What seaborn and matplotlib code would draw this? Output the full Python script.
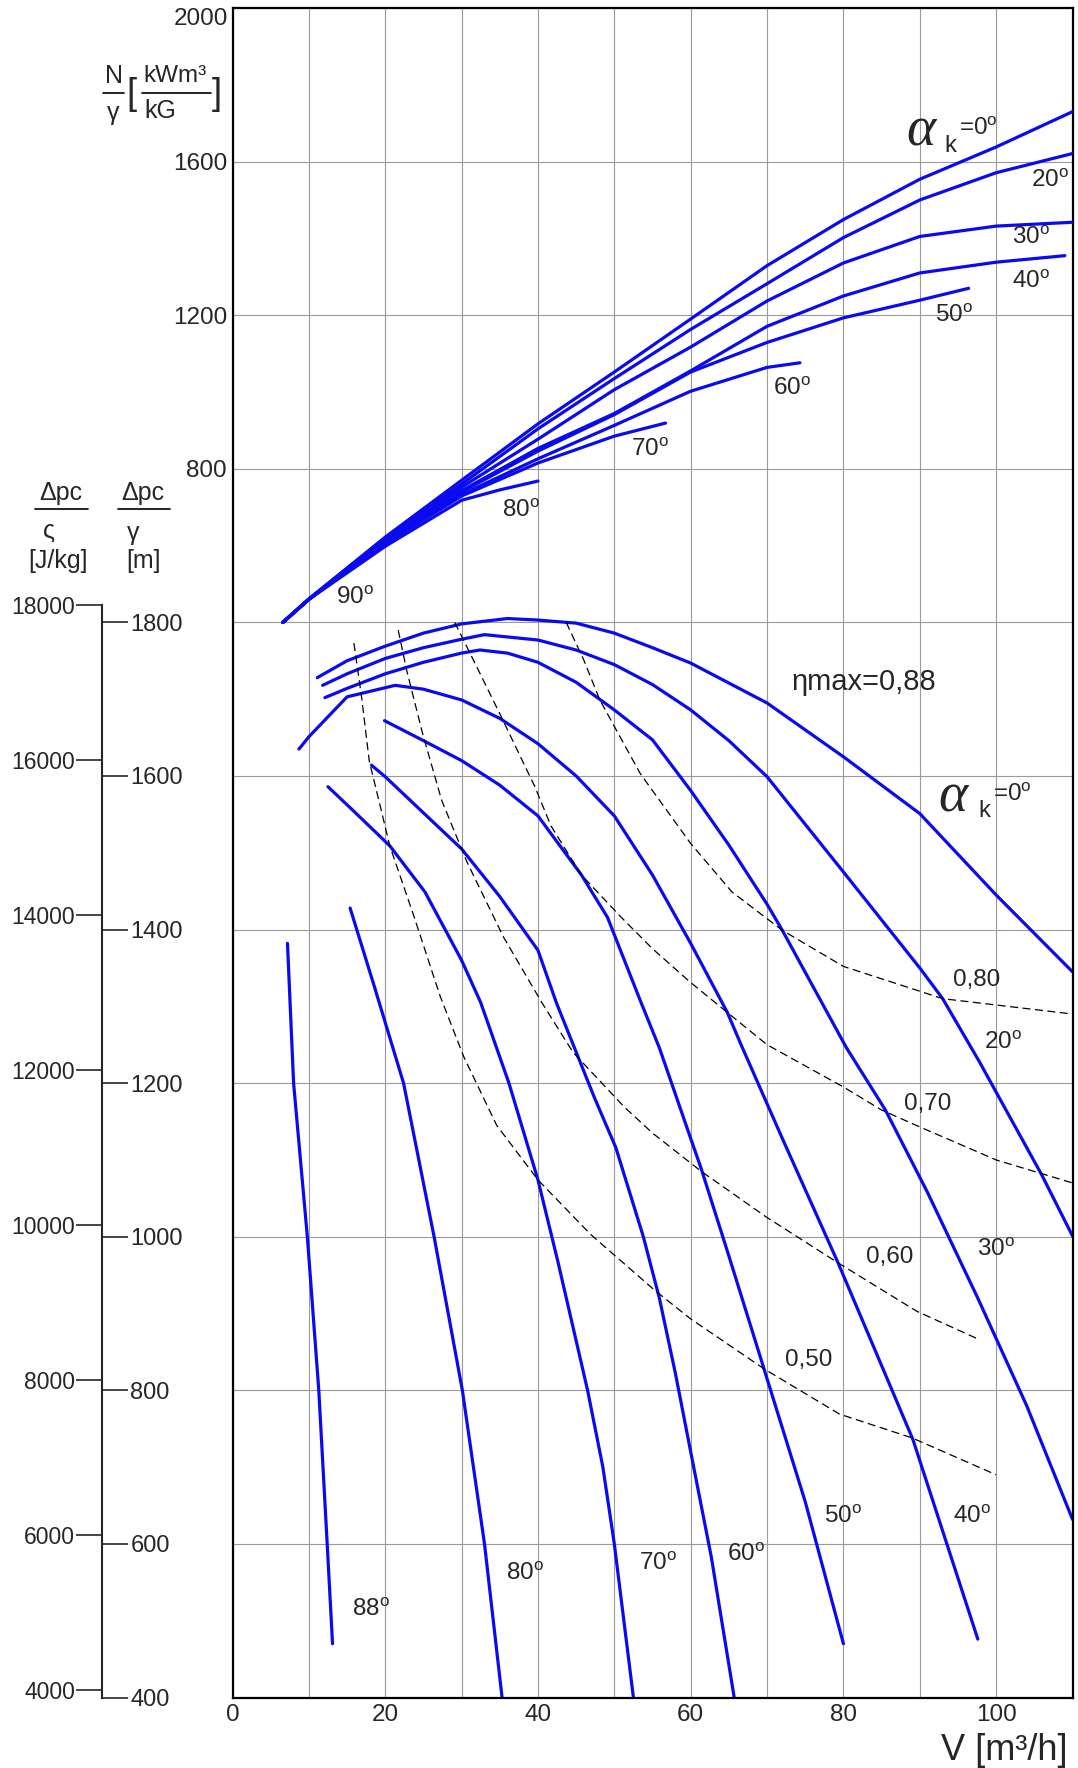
import matplotlib
matplotlib.use("Agg")
import matplotlib.pyplot as plt
from matplotlib.lines import Line2D
import seaborn as sns

# ---- upper family: N/gamma [kWm3/kG] against V [m3/h], one pair per vane angle
pow_v_0 = [6.6, 10, 20, 30, 40, 50, 60, 70, 80, 90, 100, 110]
pow_n_0 = [400, 461, 622, 770, 917, 1052, 1190, 1329, 1449, 1554, 1638, 1730]
pow_v_20 = [6.6, 10, 20, 30, 40, 50, 60, 70, 80, 90, 100, 110]
pow_n_20 = [400, 461, 620, 760, 904, 1035, 1163, 1282, 1402, 1500, 1571, 1621]
pow_v_30 = [6.6, 10, 20, 30, 40, 50, 60, 70, 80, 90, 100, 110]
pow_n_30 = [400, 460, 617, 752, 877, 1006, 1117, 1237, 1336, 1405, 1432, 1442]
pow_v_40 = [6.6, 10, 20, 30, 40, 50, 60, 70, 80, 90, 100, 109]
pow_n_40 = [400, 460, 614, 743, 853, 944, 1055, 1171, 1250, 1310, 1338, 1355]
pow_v_50 = [6.6, 10, 20, 30, 40, 50, 60, 70, 80, 90, 96.4]
pow_n_50 = [400, 460, 612, 740, 846, 941, 1052, 1129, 1193, 1239, 1270]
pow_v_60 = [6.6, 10, 20, 30, 40, 50, 60, 70, 74.3]
pow_n_60 = [400, 460, 608, 733, 826, 913, 1002, 1064, 1076]
pow_v_70 = [6.6, 10, 20, 30, 40, 50, 56.7]
pow_n_70 = [400, 460, 605, 729, 815, 885, 919]
pow_v_80 = [6.6, 10, 20, 30, 35, 40]
pow_n_80 = [400, 460, 598, 718, 745, 768]

# ---- lower family: delta p / gamma [m] against V [m3/h]
dp_v_0 = [11.1, 15, 20, 25, 30, 36, 40, 45, 50, 55, 60, 70, 80, 90, 100, 110]
dp_m_0 = [1728, 1750, 1769, 1786, 1798, 1805, 1803, 1799, 1786, 1767, 1747, 1695, 1625, 1551, 1445, 1345]
dp_v_20 = [11.8, 15, 20, 25, 30, 33, 40, 45, 50, 55, 60, 65, 70, 80, 90, 93, 97.8, 106, 110]
dp_m_20 = [1718, 1733, 1753, 1767, 1778, 1784, 1777, 1764, 1745, 1719, 1686, 1646, 1599, 1475, 1350, 1310, 1228, 1080, 1001]
dp_v_30 = [12.1, 15, 20, 25, 30, 32.4, 36, 40, 45, 50, 55, 60, 65, 70, 72, 80.4, 85.5, 91, 97.6, 104, 110]
dp_m_30 = [1702, 1714, 1733, 1748, 1760, 1764, 1760, 1748, 1722, 1686, 1647, 1581, 1510, 1433, 1399, 1246, 1165, 1058, 920, 780, 632]
dp_v_40 = [8.7, 10, 15, 21.3, 25, 30, 35, 40, 45, 50, 55, 60, 64.8, 66.6, 72, 79.3, 89.1, 97.6]
dp_m_40 = [1635, 1651, 1703, 1718, 1713, 1699, 1675, 1642, 1600, 1548, 1471, 1382, 1292, 1250, 1128, 966, 736, 476]
dp_v_50 = [19.9, 25, 30, 35, 40, 45.7, 49.1, 53.5, 55.9, 60, 61.4, 65, 69.6, 75, 80]
dp_m_50 = [1672, 1646, 1620, 1588, 1548, 1471, 1416, 1305, 1246, 1128, 1088, 975, 828, 655, 470]
dp_v_60 = [18.2, 20, 25, 30, 35, 40, 42.4, 47.4, 50.2, 53.8, 55.9, 58, 60, 62.7, 65.7]
dp_m_60 = [1614, 1599, 1552, 1505, 1443, 1373, 1305, 1181, 1116, 1000, 920, 822, 720, 583, 400]
dp_v_70 = [12.5, 16, 20.6, 25.2, 30, 32.5, 36.2, 40, 42.6, 46.5, 48.5, 50, 52.5]
dp_m_70 = [1586, 1553, 1509, 1449, 1360, 1305, 1200, 1074, 968, 800, 700, 600, 400]
dp_v_80 = [15.4, 18.6, 22.4, 26.4, 30.1, 33.0, 35.3]
dp_m_80 = [1428, 1325, 1200, 1000, 800, 600, 400]
dp_v_88 = [7.2, 8.0, 9.8, 11.3, 12.4, 13.1]
dp_m_88 = [1382, 1200, 1000, 800, 600, 470]

# ---- efficiency lines (dashed)
eta_v_50 = [15.9, 16.9, 17.9, 20.6, 23.8, 27.2, 30.3, 34.6, 40, 46.9, 55.2, 60, 69.6, 79.5, 89, 100]
eta_m_50 = [1773, 1703, 1620, 1509, 1416, 1313, 1234, 1145, 1074, 1003, 931, 893, 828, 769, 738, 690]
eta_v_60 = [21.7, 22.8, 24.9, 27.4, 30.7, 35.5, 40.5, 44.6, 51.3, 55, 61.4, 70, 79.3, 89.6, 97.8]
eta_m_60 = [1790, 1738, 1655, 1568, 1488, 1390, 1305, 1240, 1169, 1135, 1085, 1025, 966, 903, 866]
eta_v_70 = [29.1, 31.1, 35, 39.6, 41.7, 45.7, 50.9, 55, 60, 64.8, 70, 80, 85, 90, 100, 110]
eta_m_70 = [1800, 1760, 1681, 1586, 1535, 1471, 1416, 1375, 1331, 1292, 1250, 1195, 1165, 1143, 1100, 1070]
eta_v_80 = [43.7, 46, 48.1, 53.4, 60, 65.4, 72, 80, 93, 110]
eta_m_80 = [1800, 1751, 1699, 1603, 1512, 1449, 1399, 1352, 1310, 1290]

# ---- curve labels
upper_labels = ["20", "30", "40", "50", "60", "70", "80", "90"]
upper_lab_v = [107, 104.5, 104.6, 94.5, 73.3, 54.7, 37.8, 16]
upper_lab_n = [1550, 1401, 1286, 1199, 1009, 850, 691, 464]
lower_labels = ["20", "30", "40", "50", "60", "70", "80", "88"]
lower_lab_v = [100.9, 100, 96.9, 80, 67.3, 55.7, 38.3, 18.1]
lower_lab_m = [1253, 983, 635, 635, 586, 574, 561, 514]
eta_labels = ["0,80", "0,70", "0,60", "0,50"]
eta_lab_v = [97.4, 91, 86, 75.4]
eta_lab_m = [1334, 1173, 974, 839]

# tick values
v_ticks = [0, 20, 40, 60, 80, 100]
n_ticks = [800, 1200, 1600]
m_ticks = [400, 600, 800, 1000, 1200, 1400, 1600, 1800]
j_ticks = [4000, 6000, 8000, 10000, 12000, 14000, 16000, 18000]

# J/kg scale as drawn on the sheet (about g * m)
J_PER_M = 9.91
J_SHIFT = -67

BLUE = "#0a0af0"
DEG = r"$^{\mathregular{o}}$"
FS = 17.5

sns.set_style("white")
plt.rcParams["font.family"] = ["Liberation Sans", "DejaVu Sans"]
plt.rcParams["mathtext.default"] = "regular"

W, H = 1078, 1768
fig = plt.figure(figsize=(W / 100, H / 100), dpi=100)
ax = fig.add_axes([232.5 / W, 70.5 / H, 840 / W, 1689.5 / H])
top = ax.twinx()


def curve(a, xs, ys, **kw):
    sns.lineplot(x=xs, y=ys, ax=a, estimator=None, sort=False, legend=False, **kw)


for xs, ys in [(pow_v_0, pow_n_0), (pow_v_20, pow_n_20), (pow_v_30, pow_n_30),
               (pow_v_40, pow_n_40), (pow_v_50, pow_n_50), (pow_v_60, pow_n_60),
               (pow_v_70, pow_n_70), (pow_v_80, pow_n_80)]:
    curve(top, xs, ys, color=BLUE, lw=2.3)

for xs, ys in [(dp_v_0, dp_m_0), (dp_v_20, dp_m_20), (dp_v_30, dp_m_30),
               (dp_v_40, dp_m_40), (dp_v_50, dp_m_50), (dp_v_60, dp_m_60),
               (dp_v_70, dp_m_70), (dp_v_80, dp_m_80), (dp_v_88, dp_m_88)]:
    curve(ax, xs, ys, color=BLUE, lw=2.3)

for xs, ys in [(eta_v_50, eta_m_50), (eta_v_60, eta_m_60),
               (eta_v_70, eta_m_70), (eta_v_80, eta_m_80)]:
    curve(ax, xs, ys, color="black", lw=0.9, linestyle=(0, (6.4, 3.6)))

# axes, grid
ax.set_xlim(0, 110)
ax.set_ylim(400, 2600)
top.set_ylim(-2400, 2000)
ax.set_xticks(v_ticks)
ax.set_xticks(range(0, 111, 10), minor=True)
ax.set_yticks(range(400, 2601, 200))
ax.grid(which="both", color="#9a9a9a", lw=0.8)
ax.tick_params(axis="x", which="both", length=0, labelsize=FS, pad=5)
ax.tick_params(axis="y", length=0, labelleft=False)
ax.set_xlabel("")
ax.set_ylabel("")
for s in ax.spines.values():
    s.set_color("black")
    s.set_linewidth(1.6)
    s.set_visible(True)

top.grid(False)
top.yaxis.tick_left()
top.set_yticks(n_ticks)
top.tick_params(axis="y", length=0, labelsize=FS, pad=4)
top.set_ylabel("")
for s in top.spines.values():
    s.set_visible(False)
top.text(-0.0055, 2000, "2000", transform=top.get_yaxis_transform(),
         ha="right", va="top", fontsize=FS)

# left double scale
sec_j = ax.secondary_yaxis(-0.1554, functions=(lambda m: J_PER_M * m + J_SHIFT,
                                               lambda j: (j - J_SHIFT) / J_PER_M))
sec_j.set_yticks(j_ticks)
sec_j.tick_params(axis="y", length=18.5, width=1.2, labelsize=16.5, pad=1)
sec_j.spines["left"].set_linewidth(1.5)
sec_j.spines["left"].set_bounds(J_PER_M * 400 + J_SHIFT, 18000)

sec_m = ax.secondary_yaxis(-0.1554)
sec_m.set_alignment("right")
sec_m.set_yticks(m_ticks)
sec_m.tick_params(axis="y", length=18.5, width=1.2, labelsize=17, pad=2)
sec_m.spines["right"].set_visible(False)

# curve labels
for t, x, y in zip(upper_labels, upper_lab_v, upper_lab_n):
    top.text(x, y, t + DEG, ha="center", va="center", fontsize=FS)
for t, x, y in zip(lower_labels, lower_lab_v, lower_lab_m):
    ax.text(x, y, t + DEG, ha="center", va="center", fontsize=FS)
for t, x, y in zip(eta_labels, eta_lab_v, eta_lab_m):
    ax.text(x, y, t, ha="center", va="center", fontsize=FS)
ax.text(73.2, 1722, "ηmax=0,88", ha="left", va="center", fontsize=21)

# alpha_k = 0 labels (upper and lower family)
top.text(90.2, 1679, "α", ha="center", va="center", fontsize=40,
         family="Liberation Serif", style="italic")
top.text(94.0, 1641, "k", ha="center", va="center", fontsize=17)
top.text(95.1, 1684, "=0" + DEG, ha="left", va="center", fontsize=FS)
ax.text(94.4, 1572, "α", ha="center", va="center", fontsize=40,
        family="Liberation Serif", style="italic")
ax.text(98.4, 1554, "k", ha="center", va="center", fontsize=17)
ax.text(99.6, 1575, "=0" + DEG, ha="left", va="center", fontsize=FS)


# stacked axis titles drawn in figure pixels
def ftext(px, py, s, size=18, **kw):
    fig.text(px / W, 1 - py / H, s, fontsize=size, ha="center", va="center", **kw)


def fbar(x0, x1, py):
    fig.add_artist(Line2D([x0 / W, x1 / W], [1 - py / H, 1 - py / H],
                          transform=fig.transFigure, color="black", lw=1.2))


ftext(61, 493, "Δpc")
fbar(35, 88, 509)
ftext(49, 531, "ς")
ftext(58, 561, "[J/kg]")
ftext(143, 493, "Δpc")
fbar(118, 170, 509)
ftext(133, 533, "γ")
ftext(143, 561, "[m]")

ftext(114, 76, "N")
fbar(103, 124, 93)
ftext(113, 113, "γ")
ftext(131, 94, "[", size=26)
ftext(175, 76, "kWm³", size=17.5)
fbar(142, 211, 93)
ftext(160, 111, "kG")
ftext(217, 94, "]", size=26)

fig.text(1068 / W, 1 - 1750 / H, "V [m³/h]", fontsize=26, ha="right", va="center")

fig.savefig("out.png", dpi=100)
